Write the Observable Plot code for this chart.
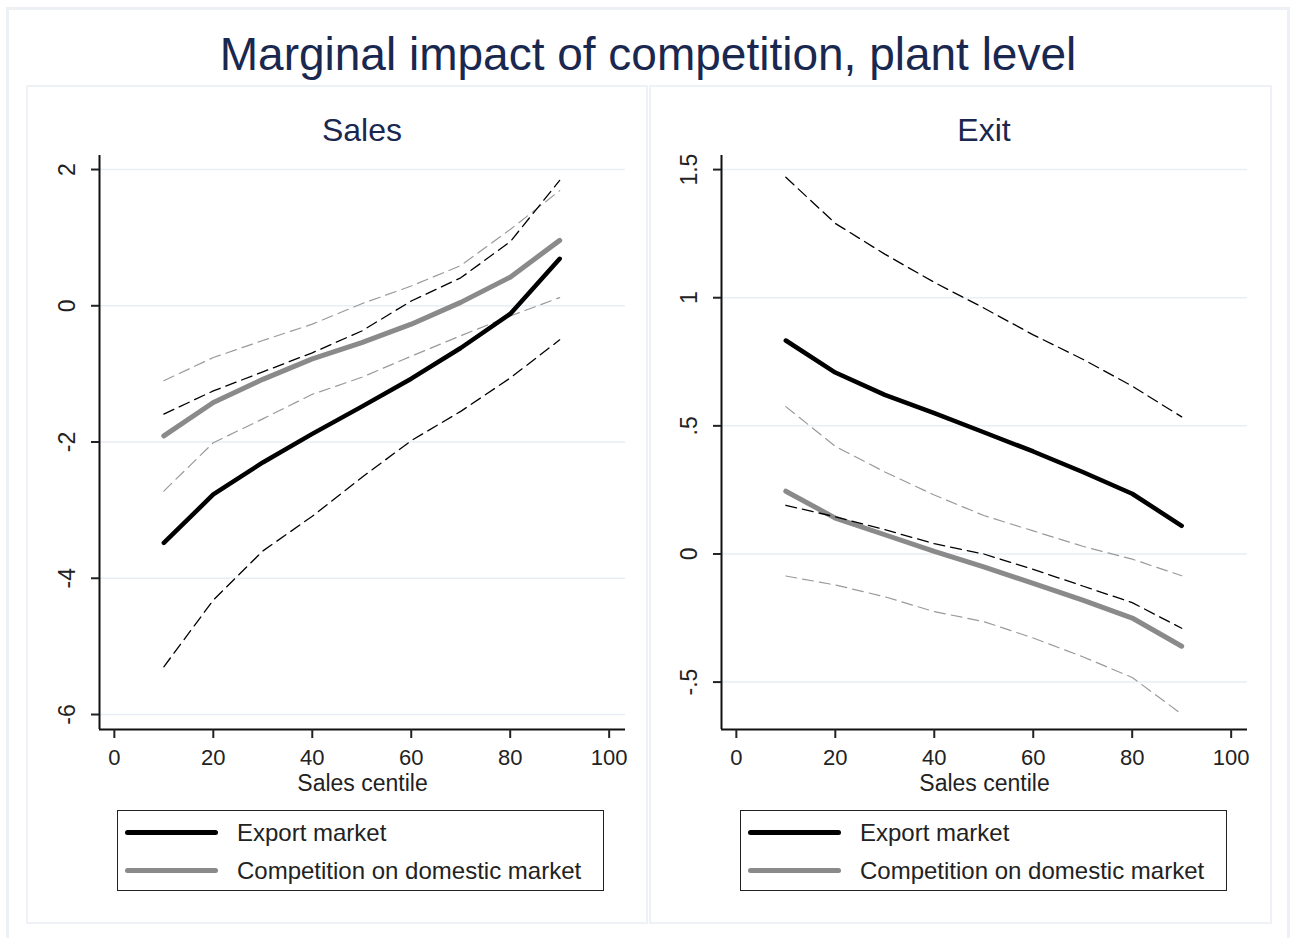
<!DOCTYPE html>
<html>
<head>
<meta charset="utf-8">
<script src="https://cdn.jsdelivr.net/npm/d3@7"></script>
<script src="https://cdn.jsdelivr.net/npm/@observablehq/plot@0.6"></script>
<style>
  body { margin: 0; background: #fff; font-family: "Liberation Sans", Arial, sans-serif; }
  #page { position: relative; width: 1292px; height: 938px; overflow: hidden; background: #fff; }
  .outer { position: absolute; left: 6px; top: 7px; width: 1278px; height: 980px; border: 3px solid #edf1f6; }
  .panel { position: absolute; top: 85px; height: 835px; border: 2px solid #eef2f7; }
  .title { position: absolute; left: 0; width: 1296px; top: 31px; text-align: center; font-size: 46px; line-height: 46px; color: #1a2850; white-space: nowrap; }
  .subtitle { position: absolute; width: 300px; text-align: center; font-size: 32px; line-height: 32px; top: 114px; color: #1a2850; }
  .chart { position: absolute; top: 140px; }
  .legend { position: absolute; top: 810px; width: 485px; height: 79px; border: 1.5px solid #222; background: #fff; }
  .swatch { position: absolute; left: 7px; width: 93px; height: 5px; border-radius: 2.5px; }
  .ltext { position: absolute; left: 119px; font-size: 24px; line-height: 24px; color: #222; white-space: nowrap; }
</style>
</head>
<body>
<div id="page">
  <div class="outer"></div>
  <div class="panel" style="left:26px;width:618px;"></div>
  <div class="panel" style="left:649px;width:619px;"></div>
  <div class="title">Marginal impact of competition, plant level</div>
  <div class="subtitle" style="left:212px;">Sales</div>
  <div class="subtitle" style="left:834px;">Exit</div>
  <div class="chart" id="sales" style="left:0px;"></div>
  <div class="chart" id="exit" style="left:622px;"></div>
  <div id="legends"></div>
</div>
<script>
// Sales centiles at which the marginal effects are evaluated
const centiles = [10, 20, 30, 40, 50, 60, 70, 80, 90];

// Sales: export market effect and 95% bounds
const salesExport   = [-3.48, -2.77, -2.30, -1.88, -1.48, -1.07, -0.62, -0.12, 0.69];
const salesExportHi = [-1.59, -1.25, -0.97, -0.69, -0.37, 0.07, 0.41, 0.94, 1.84];
const salesExportLo = [-5.30, -4.32, -3.60, -3.09, -2.52, -1.98, -1.55, -1.06, -0.50];
// Sales: competition on domestic market and 95% bounds
const salesDomestic   = [-1.91, -1.42, -1.08, -0.78, -0.54, -0.27, 0.05, 0.42, 0.96];
const salesDomesticHi = [-1.10, -0.76, -0.51, -0.27, 0.03, 0.29, 0.59, 1.12, 1.69];
const salesDomesticLo = [-2.72, -2.01, -1.66, -1.30, -1.05, -0.74, -0.44, -0.15, 0.12];

// Exit: export market effect and 95% bounds
const exitExport   = [0.833, 0.708, 0.621, 0.55, 0.475, 0.40, 0.32, 0.235, 0.11];
const exitExportHi = [1.47, 1.29, 1.17, 1.06, 0.96, 0.855, 0.76, 0.655, 0.535];
const exitExportLo = [0.19, 0.145, 0.095, 0.04, 0.0, -0.06, -0.125, -0.19, -0.29];
// Exit: competition on domestic market and 95% bounds
const exitDomestic   = [0.245, 0.14, 0.075, 0.01, -0.05, -0.115, -0.18, -0.25, -0.36];
const exitDomesticHi = [0.575, 0.42, 0.32, 0.23, 0.15, 0.09, 0.03, -0.02, -0.085];
const exitDomesticLo = [-0.086, -0.121, -0.167, -0.225, -0.264, -0.328, -0.401, -0.482, -0.625];

const xTicks = [0, 20, 40, 60, 80, 100];
const salesTicks = [-6, -4, -2, 0, 2];
const exitTicks = [-0.5, 0, 0.5, 1, 1.5];
const xLabel = "Sales centile";
const legendLabels = ["Export market", "Competition on domestic market"];

// Stata-style numbers: plain hyphen, no leading zero
const fmt = d => String(d).replace(/^(-?)0\./, "$1.");

const toRows = vals => centiles.map((c, i) => ({x: c, y: vals[i]}));

function drawPanel(target, yDomain, yTicks, s) {
  const xDomain = [-3, 103.3];
  const font = "Liberation Sans, Arial, sans-serif";
  const ci = (vals, stroke, w) => Plot.line(toRows(vals), {x: "x", y: "y", stroke, strokeWidth: w, strokeDasharray: "11,6"});
  const chart = Plot.plot({
    width: 646,
    height: 660,
    marginLeft: 99,
    marginRight: 21,
    marginTop: 15,
    marginBottom: 71,
    style: {fontFamily: font, fontSize: "22px", color: "#222", background: "transparent", overflow: "visible"},
    x: {domain: xDomain},
    y: {domain: yDomain},
    marks: [
      Plot.gridY(yTicks, {stroke: "#e8eef5", strokeOpacity: 1, strokeWidth: 1.5}),
      Plot.line(toRows(s.dom), {x: "x", y: "y", stroke: "#8a8a8a", strokeWidth: 5, strokeLinejoin: "round"}),
      ci(s.domHi, "#9a9a9a", 1.2),
      ci(s.domLo, "#9a9a9a", 1.2),
      Plot.line(toRows(s.exp), {x: "x", y: "y", stroke: "#000", strokeWidth: 4.5, strokeLinejoin: "round"}),
      ci(s.expHi, "#000", 1.3),
      ci(s.expLo, "#000", 1.3),
      Plot.ruleX([xDomain[0]], {stroke: "#111", strokeWidth: 2}),
      Plot.ruleY([yDomain[0]], {stroke: "#111", strokeWidth: 2}),
      Plot.axisX({ticks: xTicks, tickSize: 9, tickPadding: 11, strokeWidth: 2, label: null, tickFormat: fmt, fontSize: 22}),
      Plot.axisY({ticks: yTicks, tickSize: 8, strokeWidth: 2, label: null, tickFormat: () => ""}),
      Plot.text(yTicks, {y: d => d, text: fmt, frameAnchor: "left", dx: -41, rotate: -90, textAnchor: "middle", lineAnchor: "top", fill: "#222", fontSize: 23}),
      Plot.text([xLabel], {frameAnchor: "bottom", dy: 45, lineAnchor: "top", fill: "#222", fontSize: 23})
    ]
  });
  document.getElementById(target).appendChild(chart);
}

drawPanel("sales", [-6.22, 2.206], salesTicks, {
  exp: salesExport, expHi: salesExportHi, expLo: salesExportLo,
  dom: salesDomestic, domHi: salesDomesticHi, domLo: salesDomesticLo
});
drawPanel("exit", [-0.685, 1.555], exitTicks, {
  exp: exitExport, expHi: exitExportHi, expLo: exitExportLo,
  dom: exitDomestic, domHi: exitDomesticHi, domLo: exitDomesticLo
});

// Legend boxes under each panel
const legendHolder = document.getElementById("legends");
[117, 740].forEach(left => {
  const box = document.createElement("div");
  box.className = "legend";
  box.style.left = left + "px";
  const colors = ["#000", "#8a8a8a"];
  const tops = [21, 59];
  legendLabels.forEach((lab, i) => {
    const sw = document.createElement("div");
    sw.className = "swatch";
    sw.style.top = (tops[i] - 2.5) + "px";
    sw.style.background = colors[i];
    box.appendChild(sw);
    const t = document.createElement("div");
    t.className = "ltext";
    t.style.top = (tops[i] - 11) + "px";
    t.textContent = lab;
    box.appendChild(t);
  });
  legendHolder.appendChild(box);
});
</script>
</body>
</html>
